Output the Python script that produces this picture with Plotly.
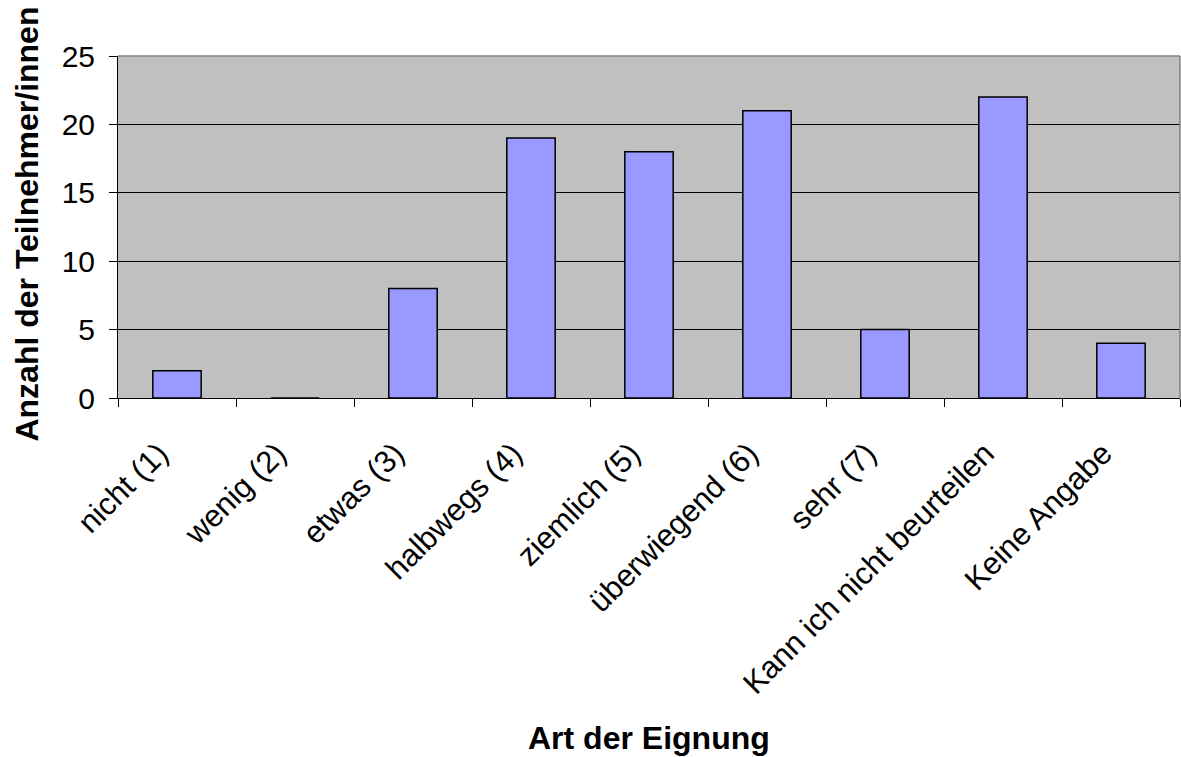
import plotly.graph_objects as go

categories = ["nicht (1)", "wenig (2)", "etwas (3)", "halbwegs (4)", "ziemlich (5)",
              "überwiegend (6)", "sehr (7)", "Kann ich nicht beurteilen", "Keine Angabe"]
counts = [2, 0, 8, 19, 18, 21, 5, 22, 4]
y_ticks = [0, 5, 10, 15, 20, 25]

fig = go.Figure(go.Bar(
    x=categories, y=counts, width=0.41,
    marker=dict(color="#9999FF", line=dict(color="black", width=1.5)),
))

font = dict(family="Liberation Sans, Arial, sans-serif", color="black")

fig.update_layout(
    width=1181, height=757,
    margin=dict(l=118, r=1, t=56, b=359),
    paper_bgcolor="white", plot_bgcolor="#C0C0C0",
    showlegend=False,
    font=font,
    xaxis=dict(
        tickangle=-45, tickson="boundaries", ticks="outside", ticklen=8,
        tickcolor="black", showline=True, linecolor="black", linewidth=1,
        tickfont=dict(size=31), showgrid=False,
        ticklabelstandoff=24, ticklabelshift=-18,
    ),
    yaxis=dict(
        range=[0, 25], tickvals=y_ticks, ticks="outside", ticklen=8,
        tickcolor="black", showline=True, linecolor="black", linewidth=1,
        gridcolor="black", gridwidth=1, zeroline=False,
        tickfont=dict(size=30), ticklabelstandoff=8,
    ),
    annotations=[
        dict(text="<b>Art der Eignung</b>", xref="paper", yref="paper",
             x=0.5, y=-0.994, xanchor="center", yanchor="middle",
             showarrow=False, font=dict(size=32)),
        dict(text="<b>Anzahl der Teilnehmer/innen</b>", xref="paper", yref="paper",
             x=-0.0857, y=0.51, xanchor="center", yanchor="middle", textangle=-90,
             showarrow=False, font=dict(size=32)),
    ],
    shapes=[
        dict(type="line", xref="paper", yref="paper", x0=0, x1=1, y0=1, y1=1,
             line=dict(color="#808080", width=1.5)),
        dict(type="line", xref="paper", yref="paper", x0=1, x1=1, y0=0, y1=1,
             line=dict(color="#808080", width=1.5)),
    ],
)

fig.write_html("out.html")
